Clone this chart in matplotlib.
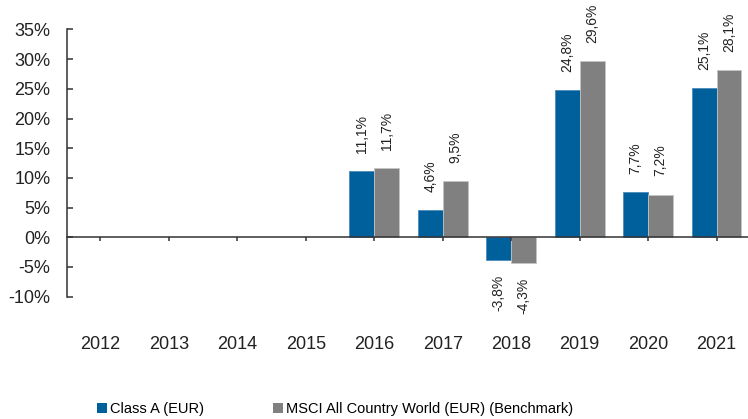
import numpy as np
import matplotlib.pyplot as plt
from matplotlib.patches import Patch
from matplotlib.transforms import blended_transform_factory

plt.rcParams['font.family'] = ['Liberation Sans', 'DejaVu Sans']

years = ['2012', '2013', '2014', '2015', '2016', '2017', '2018', '2019', '2020', '2021']
class_a = [np.nan, np.nan, np.nan, np.nan, 11.1, 4.6, -3.8, 24.8, 7.7, 25.1]
benchmark = [np.nan, np.nan, np.nan, np.nan, 11.7, 9.5, -4.3, 29.6, 7.2, 28.1]
series_names = ['Class A (EUR)', 'MSCI All Country World (EUR) (Benchmark)']
yticks = [-10, -5, 0, 5, 10, 15, 20, 25, 30, 35]

blue = '#00609c'
gray = '#808080'
dark = '#333333'

fig = plt.figure(figsize=(7.48, 4.19), dpi=100)
ax = fig.add_axes([0.0896, 0.2919, 1 - 0.0896, 0.9298 - 0.2919])

x = np.arange(len(years))
w = 0.365
bars_a = ax.bar(x - w / 2, class_a, w, color=blue, edgecolor='#4b8bbb', linewidth=0.6)
bars_b = ax.bar(x + w / 2, benchmark, w, color=gray, edgecolor='#c4c4c4', linewidth=0.6)


def fmt(v):
    return f"{v:.1f}".replace('.', ',') + '%'


# value labels, rotated, above positive bars and below negative ones
for bars, vals in ((bars_a, class_a), (bars_b, benchmark)):
    for b, v in zip(bars, vals):
        if np.isnan(v):
            continue
        cx = b.get_x() + b.get_width() / 2
        if v >= 0:
            ax.annotate(fmt(v), (cx, v), xytext=(0, 13), textcoords='offset points',
                        rotation=90, ha='center', va='bottom', fontsize=10, color='#222222')
        else:
            ax.annotate(fmt(v), (cx, v), xytext=(0, -11), textcoords='offset points',
                        rotation=90, ha='center', va='top', fontsize=10, color='#222222')

ax.set_xlim(-0.486, 9.46)
ax.set_ylim(-10, 35)
ax.set_yticks(yticks)
ax.set_yticklabels([f"{t}%" for t in yticks], fontsize=13, color='#222222')

for s in ('top', 'right'):
    ax.spines[s].set_visible(False)
ax.spines['left'].set_color(dark)
ax.spines['left'].set_linewidth(1.1)
ax.spines['bottom'].set_position(('data', 0))
ax.spines['bottom'].set_color(dark)
ax.spines['bottom'].set_linewidth(1.1)

ax.tick_params(axis='y', direction='in', length=4, width=1.1, color=dark, pad=12)
ax.set_xticks(x)
ax.tick_params(axis='x', direction='out', length=3, width=1.1, color=dark, labelbottom=False)

# year labels sit below the plot area, not on the zero line
trans = blended_transform_factory(ax.transData, ax.transAxes)
for xi, yr in zip(x, years):
    ax.text(xi, -0.177, yr, transform=trans, ha='center', va='center', fontsize=13, color='#222222')

handles = [Patch(facecolor=blue), Patch(facecolor=gray)]
fig.legend(handles, series_names, loc='center left', bbox_to_anchor=(97 / 748, 1 - 409 / 419),
           ncol=2, frameon=False, fontsize=10.5, handlelength=0.7, handleheight=0.7,
           handletextpad=0.2, columnspacing=4.7, borderpad=0, borderaxespad=0)

fig.savefig('out.png', dpi=100)
